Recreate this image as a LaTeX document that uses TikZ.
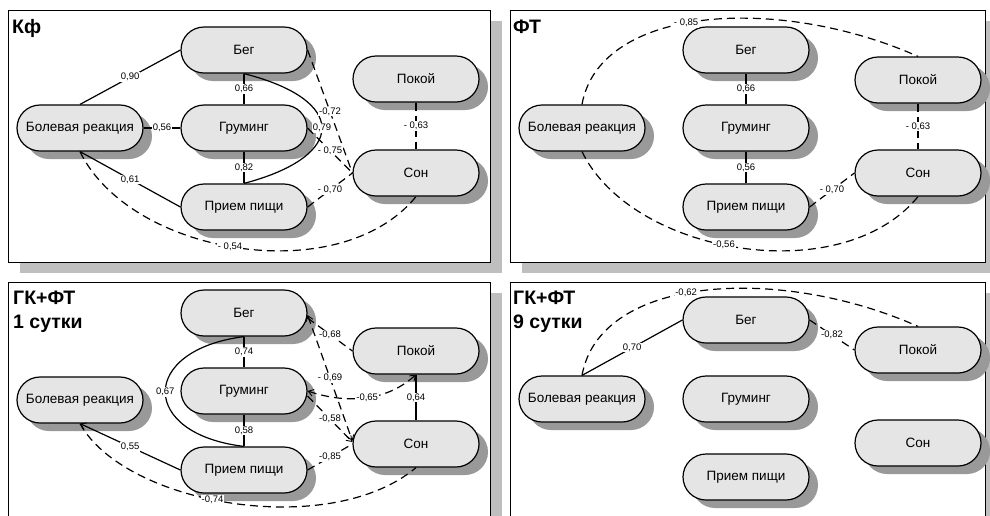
\documentclass[tikz,border=0pt]{standalone}
\usepackage{fontspec}
\setmainfont{Liberation Sans}
\usetikzlibrary{arrows.meta,shadows}

\tikzset{
  panel/.style={draw=black, fill=white, line width=1pt},
  pshadow/.style={fill=black!25},
  box/.style={draw=black, line width=1.2pt, fill=black!10, rectangle,
    rounded corners=23pt, minimum width=126pt, minimum height=46pt,
    inner sep=0pt, font=\fontsize{13.5}{15}\selectfont,
    drop shadow={shadow xshift=9pt, shadow yshift=-8pt, fill=black!40, opacity=1}},
  ttl/.style={anchor=base west, inner sep=0pt, align=left,
    font=\fontsize{19.5}{23}\selectfont\bfseries},
  sol/.style={draw=black, line width=1.2pt},
  dsh/.style={draw=black, line width=1.2pt, dash pattern=on 8pt off 5pt},
  lbl/.style={fill=white, inner sep=0.8pt, font=\fontsize{9.5}{10}\selectfont},
  tip/.tip={Straight Barb[length=5pt, width=7pt, line width=0.9pt]},
}

\begin{document}
\begin{tikzpicture}[x=1pt, y=-1pt]
\useasboundingbox (0,0) rectangle (990,515);
\clip (0,0) rectangle (990,515);
\fill[white] (0,0) rectangle (990,515);

% ---------- panel frames ----------
\fill[pshadow] (20,21) rectangle (502,273);
\draw[panel] (8,10) rectangle (490,262);
\fill[pshadow] (522,21) rectangle (997,273);
\draw[panel] (510,10) rectangle (985,262);
\fill[pshadow] (20,293) rectangle (502,560);
\draw[panel] (8,282) rectangle (490,550);
\fill[pshadow] (522,293) rectangle (997,560);
\draw[panel] (510,282) rectangle (985,550);

% ---------- titles ----------
\node[ttl] (tA) at (12,33) {Кф};
\node[ttl] (tB) at (513,33) {ФТ};
\node[ttl] (tC1) at (13,304) {ГК+ФТ};
\node[ttl] (tC2) at (13,328) {1 сутки};
\node[ttl] (tD1) at (513,304) {ГК+ФТ};
\node[ttl] (tD2) at (513,328) {9 сутки};

% ---------- panel A: Кф ----------
\node[box] (bolA) at (80,128) {Болевая реакция};
\node[box] (begA) at (244,50) {Бег};
\node[box] (groA) at (244,128) {Груминг};
\node[box] (priA) at (244,207) {Прием пищи};
\node[box] (pokA) at (416,79) {Покой};
\node[box] (sonA) at (416,173) {Сон};

\draw[sol] (bolA.north) -- node[lbl]{0,90} (begA.west);
\draw[sol] (bolA.east) -- node[lbl]{0,56} (groA.west);
\draw[sol] (bolA.south) -- node[lbl]{0,61} (priA.west);
\draw[dsh] (bolA.south) .. controls (130,255) and (340,290) .. node[lbl, pos=0.48]{- 0,54} (sonA.south);
\draw[sol] (begA.south) -- node[lbl]{0,66} (groA.north);
\draw[sol] (groA.south) -- node[lbl]{0,82} (priA.north);
\draw[sol] (begA.south) .. controls (348,100) and (348,156) .. node[lbl]{0,79} (priA.north);
\draw[dsh] (begA.east) -- node[lbl]{-0,72} (sonA.west);
\draw[dsh] (groA.east) -- node[lbl]{- 0,75} (sonA.west);
\draw[dsh] (priA.east) -- node[lbl]{- 0,70} (sonA.west);
\draw[dsh] (pokA.south) -- node[lbl]{- 0,63} (sonA.north);

% ---------- panel B: ФТ ----------
\node[box] (bolB) at (582,128) {Болевая реакция};
\node[box] (begB) at (746,50) {Бег};
\node[box] (groB) at (746,128) {Груминг};
\node[box] (priB) at (746,207) {Прием пищи};
\node[box] (pokB) at (918,80) {Покой};
\node[box] (sonB) at (918,173) {Сон};

\draw[dsh] (bolB.north) .. controls (600,5) and (780,-5) .. node[lbl, pos=0.45]{- 0,85} (pokB.north);
\draw[dsh] (bolB.south) .. controls (632,255) and (842,290) .. node[lbl, pos=0.46]{-0,56} (sonB.south);
\draw[sol] (begB.south) -- node[lbl]{0,66} (groB.north);
\draw[sol] (groB.south) -- node[lbl]{0,56} (priB.north);
\draw[dsh] (priB.east) -- node[lbl]{- 0,70} (sonB.west);
\draw[dsh] (pokB.south) -- node[lbl]{- 0,63} (sonB.north);

% ---------- panel C: ГК+ФТ, 1 сутки ----------
\node[box] (bolC) at (80,400) {Болевая реакция};
\node[box] (begC) at (244,313) {Бег};
\node[box] (groC) at (244,391) {Груминг};
\node[box] (priC) at (244,470) {Прием пищи};
\node[box] (pokC) at (416,351) {Покой};
\node[box] (sonC) at (416,444) {Сон};

\draw[sol] (begC.south) -- node[lbl]{0,74} (groC.north);
\draw[sol] (groC.south) -- node[lbl]{0,58} (priC.north);
\draw[sol] (begC.south) .. controls (139,350) and (139,434) .. node[lbl]{0,67} (priC.north);
\draw[sol, tip-] (bolC.south) -- node[lbl]{0,55} (priC.west);
\draw[dsh] (bolC.south) .. controls (125,505) and (330,540) .. node[lbl, pos=0.45]{-0,74} (sonC.south);
\draw[dsh] ([yshift=-5pt]begC.east) -- node[lbl]{-0,68} (pokC.west);
\draw[dsh, tip-tip] ([yshift=-2pt]begC.east) -- node[lbl]{- 0,69} ([yshift=3pt]sonC.west);
\draw[dsh, tip-tip] (groC.east) .. controls (350,405) and (388,400) .. node[lbl]{-0,65} (pokC.south);
\draw[dsh, -tip] ([yshift=-5pt]groC.east) -- node[lbl]{-0,58} ([yshift=2pt]sonC.west);
\draw[dsh] (priC.east) -- node[lbl]{-0,85} (sonC.west);
\draw[sol] (pokC.south) -- node[lbl]{0,64} (sonC.north);

% ---------- panel D: ГК+ФТ, 9 сутки ----------
\node[box] (bolD) at (582,399) {Болевая реакция};
\node[box] (begD) at (746,320) {Бег};
\node[box] (groD) at (746,399) {Груминг};
\node[box] (priD) at (746,477) {Прием пищи};
\node[box] (pokD) at (918,350) {Покой};
\node[box] (sonD) at (918,443) {Сон};

\draw[sol] (bolD.north) -- node[lbl]{0,70} (begD.west);
\draw[dsh] (bolD.north) .. controls (600,275) and (780,265) .. node[lbl, pos=0.45]{-0,62} (pokD.north);
\draw[dsh] (begD.east) -- node[lbl]{-0,82} (pokD.west);

\end{tikzpicture}
\end{document}
